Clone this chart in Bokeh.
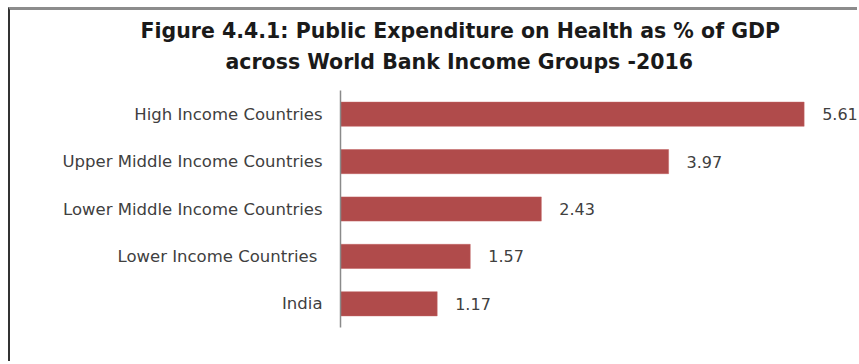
from bokeh.plotting import figure
from bokeh.models import ColumnDataSource, Title, FactorRange, Range1d
from bokeh.core.properties import value
from bokeh.embed import file_html
from bokeh.resources import INLINE

categories = ["High Income Countries", "Upper Middle Income Countries",
              "Lower Middle Income Countries", "Lower  Income Countries", "India"]
values = [5.61, 3.97, 2.43, 1.57, 1.17]
labels = ["5.61", "3.97", "2.43", "1.57", "1.17"]

title_line1 = "Figure 4.4.1: Public Expenditure on Health as % of GDP"
title_line2 = "across World Bank Income Groups -2016"

src = ColumnDataSource(dict(cat=categories, val=values, lab=labels))

p = figure(width=849, height=354, output_backend="svg", toolbar_location=None,
           y_range=FactorRange(*list(reversed(categories)), range_padding=0),
           x_range=Range1d(0, 6.28),
           min_border_left=330, min_border_right=0, min_border_top=80,
           min_border_bottom=37, title=None)
p.margin = (7, 0, 0, 8)
p.styles = {"border-top": "3px solid #8c8c8c", "border-left": "2px solid #333333"}

p.hbar(y="cat", right="val", left=0, height=0.51, source=src,
       fill_color="#B04B4B", line_color="#C06060", line_width=0.5)
p.text(x="val", y="cat", text="lab", source=src, x_offset=18,
       text_align="left", text_baseline="middle",
       text_font=value("DejaVu Sans"), text_font_size="16px", text_color="#404040")

p.add_layout(Title(text=title_line2, align="left", offset=-115,
                   text_font="DejaVu Sans", text_font_style="bold",
                   text_font_size="20.5px", text_color="#1a1a1a", standoff=34), "above")
p.add_layout(Title(text=title_line1, align="left", offset=-200,
                   text_font="DejaVu Sans", text_font_style="bold",
                   text_font_size="20.5px", text_color="#1a1a1a", standoff=-24), "above")

p.xaxis.visible = False
p.xgrid.grid_line_color = None
p.ygrid.grid_line_color = None
p.outline_line_color = None
p.background_fill_color = "#ffffff"
p.border_fill_color = "#ffffff"

ax = p.yaxis[0]
ax.axis_line_color = "#8a8a8a"
ax.axis_line_width = 1.5
ax.major_tick_line_color = None
ax.minor_tick_line_color = None
ax.major_tick_out = 0
ax.major_label_standoff = 18
ax.major_label_text_font = "DejaVu Sans"
ax.major_label_text_font_size = "16.5px"
ax.major_label_text_color = "#404040"

open("out.html", "w").write(file_html(p, INLINE))
